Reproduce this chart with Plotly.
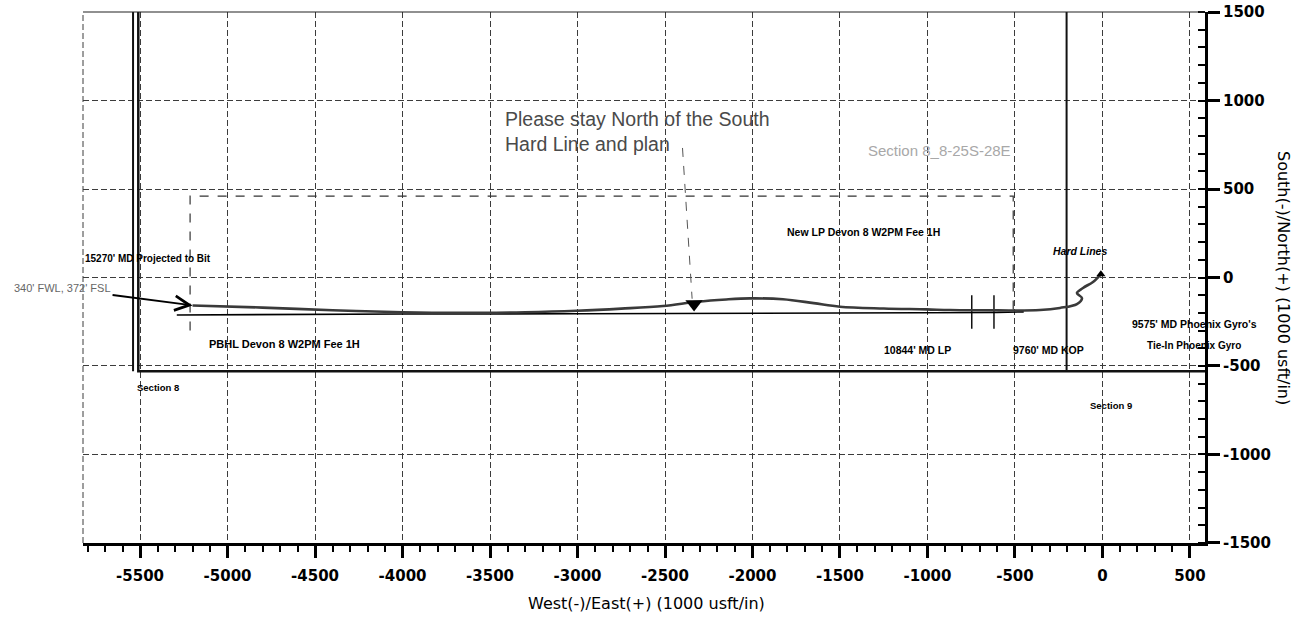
import plotly.graph_objects as go

# ---------------- data ----------------
actual_x = [-5200, -4800, -4400, -4000, -3700, -3300, -3005, -2750, -2511, -2317, -2150, -2014, -1826,
            -1650, -1500, -1250, -1005, -871, -600, -357, -243, -146, -117, -146, -111, -54, -9]
actual_y = [-158, -170, -185, -196, -200, -196, -188, -176, -161, -137, -124, -118, -123,
            -145, -165, -175, -180, -184, -186, -184, -172, -150, -116, -88, -59, -25, 18]

plan_x = [-5290, -4500, -4000, -3000, -2000, -1000, -600, -450]
plan_y = [-212, -208, -206, -205, -203, -201, -198, -194]

tip_x = [-9]
tip_y = [18]

section8_inner_x = [-5540, -5540]
section8_inner_y = [1600, -530]
section_line_x = [-5510, -5510, 600]
section_line_y = [1600, -530, -530]

east_hard_x = [-205, -205]
east_hard_y = [1600, -530]

hard_rect_x = [-5214, -5214, -510, -510]
hard_rect_y = [-300, 460, 460, -200]

lp_marks_x = [-747, -747, None, -620, -620]
lp_marks_y = [-100, -290, None, -100, -290]

note_arrow_x = [-2400, -2345]
note_arrow_y = [732, -120]
note_head_x = [-2334]
note_head_y = [-150]

x_ticks = [-5500, -5000, -4500, -4000, -3500, -3000, -2500, -2000, -1500, -1000, -500, 0, 500]
y_ticks = [-1500, -1000, -500, 0, 500, 1000, 1500]
x_range = [-5826, 586]
y_range = [-1500.5, 1500.5]

# ---------------- figure ----------------
SW, SH = 1304, 617                    # page size
SL, SR, ST, SB = 83, 1205, 12, 543    # plot box in page pixels
W, H = SW, SH
L, T = SL, ST
R, B = SW - SR, SH - SB
PW, PH = SR - SL, SB - ST

def P(xp, yp):
    return dict(xref="paper", yref="paper", x=(xp - SL) / PW, y=(SB - yp) / PH)

fig = go.Figure()

fig.add_trace(go.Scatter(x=hard_rect_x, y=hard_rect_y, mode="lines",
                         line=dict(color="#333", width=1.2, dash="dash"), hoverinfo="skip"))
fig.add_trace(go.Scatter(x=section8_inner_x, y=section8_inner_y, mode="lines",
                         line=dict(color="#111", width=2), hoverinfo="skip"))
fig.add_trace(go.Scatter(x=section_line_x, y=section_line_y, mode="lines",
                         line=dict(color="#111", width=2.5), hoverinfo="skip"))
fig.add_trace(go.Scatter(x=east_hard_x, y=east_hard_y, mode="lines",
                         line=dict(color="#111", width=2), hoverinfo="skip"))
fig.add_trace(go.Scatter(x=lp_marks_x, y=lp_marks_y, mode="lines",
                         line=dict(color="#111", width=1.5), hoverinfo="skip"))
fig.add_trace(go.Scatter(x=plan_x, y=plan_y, mode="lines",
                         line=dict(color="#000", width=1.6), hoverinfo="skip"))
fig.add_trace(go.Scatter(x=actual_x, y=actual_y, mode="lines", line_shape="spline",
                         line=dict(color="#3a3a3a", width=2.6), hoverinfo="skip"))
fig.add_trace(go.Scatter(x=tip_x, y=tip_y, mode="markers",
                         marker=dict(symbol="triangle-up", size=8, color="#000"), hoverinfo="skip"))
fig.add_trace(go.Scatter(x=note_arrow_x, y=note_arrow_y, mode="lines",
                         line=dict(color="#555", width=1, dash="dash"), hoverinfo="skip"))
fig.add_trace(go.Scatter(x=note_head_x, y=note_head_y, mode="markers",
                         marker=dict(symbol="triangle-down", size=15, color="#000"), hoverinfo="skip"))

lab = dict(family="Liberation Sans, Arial, sans-serif", size=10.5, color="#000", weight="bold")

def T_(text, xp, yp, xanchor="center", font=None, **kw):
    d = dict(text=text, showarrow=False, xanchor=xanchor, yanchor="middle",
             font=font or lab, **P(xp, yp))
    d.update(kw)
    return d

annotations = [
    T_("15270' MD Projected to Bit", 83, 258, "left", dict(lab, size=10)),
    T_("PBHL Devon 8 W2PM Fee 1H", 207, 344, "left", dict(lab, size=11)),
    T_("Section 8", 135, 387, "left", dict(lab, size=9.5)),
    T_("Please stay North of the South<br>Hard Line and plan", 503, 131, "left",
       dict(family="Liberation Sans, Arial, sans-serif", size=19.5, color="#4a4a4a"), align="left"),
    T_("Section 8_8-25S-28E", 866, 150, "left",
       dict(family="Liberation Sans, Arial, sans-serif", size=15, color="#a8a8a8")),
    T_("New LP Devon 8 W2PM Fee 1H", 785, 232, "left", dict(lab, size=10.5)),
    T_("<i>Hard Lines</i>", 1080, 251, "center", dict(lab, size=10.5)),
    T_("9575' MD Phoenix Gyro's", 1194, 324, "center", dict(lab, size=10.5)),
    T_("Tie-In Phoenix Gyro", 1194, 345, "center", dict(lab, size=10)),
    T_("10844' MD LP", 917, 350, "center", dict(lab, size=10.5)),
    T_("9760' MD KOP", 1048, 350, "center", dict(lab, size=10.5)),
    T_("Section 9", 1111, 405, "center", dict(lab, size=9.5)),
    T_("West(-)/East(+) (1000 usft/in)", 646, 603, "center",
       dict(family="DejaVu Sans, sans-serif", size=16, color="#000")),
    T_("South(-)/North(+) (1000 usft/in)", 1284, 278, "center",
       dict(family="DejaVu Sans, sans-serif", size=16, color="#000"), textangle=90),
    dict(text="340' FWL, 372' FSL", x=actual_x[0], y=actual_y[0], xref="x", yref="y",
         showarrow=True, ax=-130, ay=-17, arrowhead=5, arrowsize=1.6, arrowwidth=1.8,
         arrowcolor="#000", standoff=0,
         font=dict(family="Liberation Sans, Arial, sans-serif", size=11, color="#666")),
]

axis_common = dict(
    showgrid=True, gridcolor="#3c3c3c", gridwidth=1, griddash="6px,3px",
    zeroline=False, showline=True, linecolor="#000", linewidth=3,
    ticks="outside", ticklen=12, tickwidth=3, tickcolor="#000", automargin=False,
    tickfont=dict(family="DejaVu Sans, sans-serif", size=15, color="#000", weight="bold"),
)

frame = dict(color="#3c3c3c", width=1, dash="6px,3px")

fig.update_layout(
    width=W, height=H,
    margin=dict(l=L, r=R, t=T, b=B, pad=0, autoexpand=False),
    paper_bgcolor="white", plot_bgcolor="white",
    showlegend=False,
    annotations=annotations,
    shapes=[dict(type="line", xref="paper", yref="paper", x0=0, x1=0, y0=0, y1=1, line=frame),
            dict(type="line", xref="paper", yref="paper", x0=0, x1=1, y0=1, y1=1,
                 line=dict(color="#222", width=1.2))],
    xaxis=dict(axis_common, range=x_range, tickvals=x_ticks, ticklabelstandoff=5,
               ticktext=[str(v) for v in x_ticks],
               minor=dict(dtick=100, tick0=0, ticks="outside", ticklen=6, tickwidth=1.5,
                          tickcolor="#000", showgrid=False)),
    yaxis=dict(axis_common, range=y_range, tickvals=y_ticks, side="right",
               ticktext=[str(v) for v in y_ticks],
               minor=dict(dtick=100, tick0=0, ticks="inside", ticklen=7, tickwidth=1.5,
                          tickcolor="#000", showgrid=False)),
)

fig.write_html("out.html", config={"displayModeBar": False},
               post_script="document.body.style.margin='0';document.body.style.overflow='hidden';")
